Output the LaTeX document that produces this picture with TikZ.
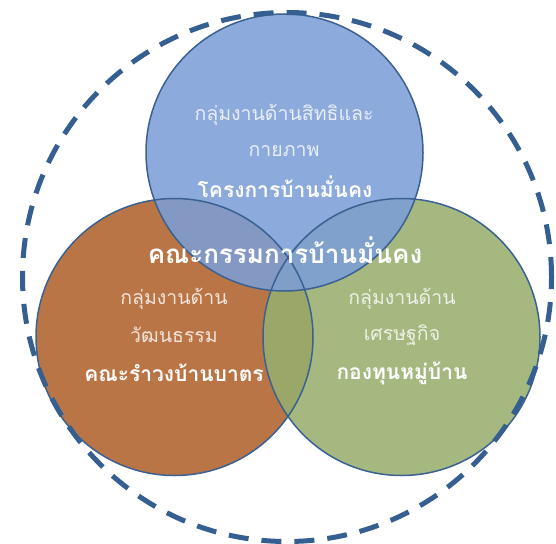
\documentclass[tikz,border=0pt]{standalone}
\usepackage{fontspec}
\newfontfamily\thaifont[Script=Thai]{Loma}
\definecolor{edgeblue}{HTML}{3A6192}
\definecolor{dashblue}{HTML}{365F91}
\definecolor{cblue}{HTML}{7C9ED6}
\definecolor{corange}{HTML}{B0622E}
\definecolor{cgreen}{HTML}{97AE6E}
\tikzset{
  setc/.style={circle, minimum size=277pt, inner sep=0pt, fill opacity=0.88},
  ring/.style={circle, minimum size=277pt, inner sep=0pt, draw=edgeblue, line width=1.5pt},
  thin/.style={text=white, text opacity=0.8, font=\thaifont\fontsize{19.5}{19.5}\selectfont},
  bold/.style={text=white, font=\thaifont\bfseries\fontsize{21}{21}\selectfont},
  big/.style={text=white, font=\thaifont\bfseries\fontsize{26}{26}\selectfont}
}
\begin{document}
\begin{tikzpicture}[x=1pt,y=-1pt]
\useasboundingbox (0,0) rectangle (556,543);
\node[setc, fill=corange] (L) at (174.5,337) {};
\node[setc, fill=cgreen] (R) at (401.5,337) {};
\node[setc, fill=cblue] (T) at (284.5,152.5) {};
\node[ring] (Lr) at (174.5,337) {};
\node[ring] (Rr) at (401.5,337) {};
\node[ring] (Tr) at (284.5,152.5) {};
\node[circle, minimum size=529pt, inner sep=0pt, draw=dashblue, line width=5pt, dash pattern=on 20pt off 13pt] (outer) at (287,277) {};
\node[thin] (t1) at (284,115) {กลุ่มงานด้านสิทธิและ};
\node[thin] (t2) at (284,151) {กายภาพ};
\node[bold] (t3) at (285,187) {โครงการบ้านมั่นคง};
\node[big] (c) at (285,250) {คณะกรรมการบ้านมั่นคง};
\node[thin] (l1) at (174,299) {กลุ่มงานด้าน};
\node[thin] (l2) at (174,335) {วัฒนธรรม};
\node[bold] (l3) at (174,373) {คณะรำวงบ้านบาตร};
\node[thin] (r1) at (402,299) {กลุ่มงานด้าน};
\node[thin] (r2) at (402,335) {เศรษฐกิจ};
\node[bold] (r3) at (402,373) {กองทุนหมู่บ้าน};
\end{tikzpicture}
\end{document}
